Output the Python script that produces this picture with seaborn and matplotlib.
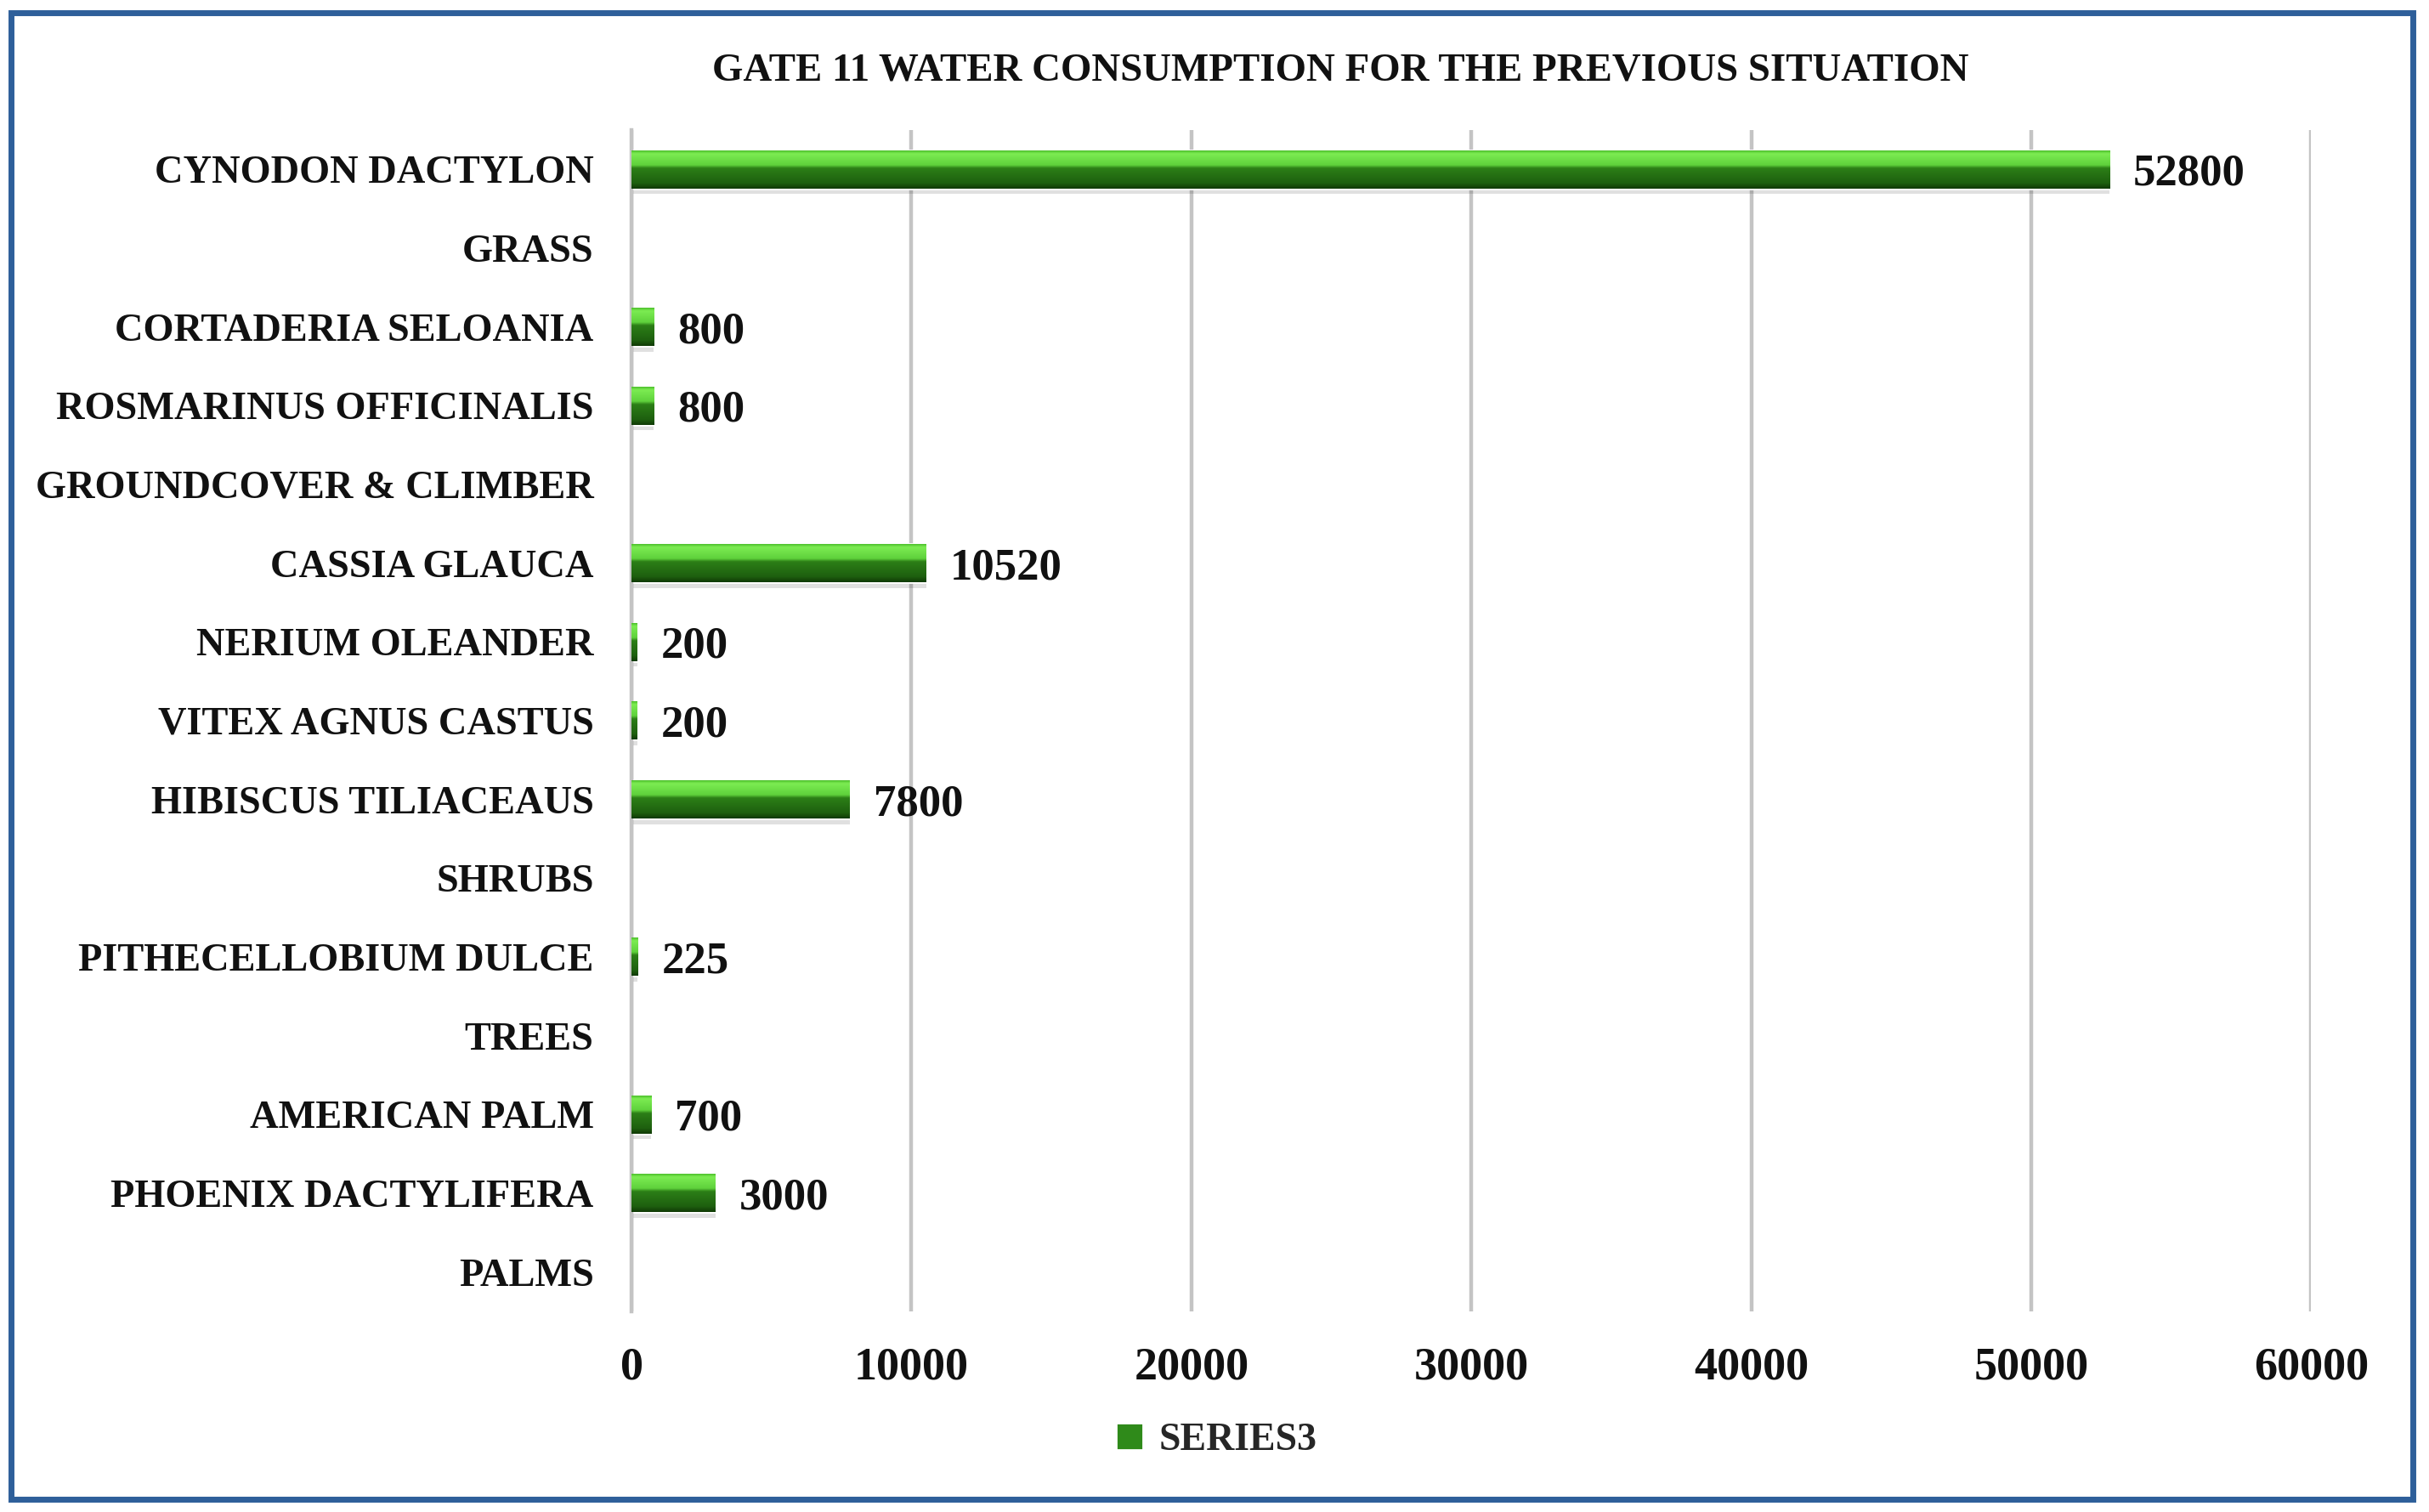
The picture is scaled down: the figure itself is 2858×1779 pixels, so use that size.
import numpy as np
import pandas as pd
import matplotlib
matplotlib.use("Agg")
import matplotlib.pyplot as plt
from matplotlib.colors import LinearSegmentedColormap
from matplotlib.patches import Rectangle
import seaborn as sns

# data (top to bottom as in the chart)
plants = ["CYNODON DACTYLON", "GRASS", "CORTADERIA SELOANIA", "ROSMARINUS OFFICINALIS",
          "GROUNDCOVER & CLIMBER", "CASSIA GLAUCA", "NERIUM OLEANDER", "VITEX AGNUS CASTUS",
          "HIBISCUS TILIACEAUS", "SHRUBS", "PITHECELLOBIUM DULCE", "TREES",
          "AMERICAN PALM", "PHOENIX DACTYLIFERA", "PALMS"]
consumption = [52800, np.nan, 800, 800, np.nan, 10520, 200, 200, 7800, np.nan,
               225, np.nan, 700, 3000, np.nan]
x_ticks = [0, 10000, 20000, 30000, 40000, 50000, 60000]
series_name = "SERIES3"
title = "GATE 11 WATER CONSUMPTION FOR THE PREVIOUS SITUATION"

df = pd.DataFrame({"plant": plants, "water": consumption})

sns.set_theme(style="white")
plt.rcParams["font.family"] = ["Liberation Serif", "DejaVu Serif"]
plt.rcParams["font.weight"] = "bold"

fig = plt.figure(figsize=(14.29, 8.895), dpi=200)
ax = fig.add_axes([0.260, 0.1327, 0.6915, 0.7813])

sns.barplot(data=df, y="plant", x="water", order=plants, orient="h",
            color="#2f8a1a", width=0.48, label=series_name, ax=ax, errorbar=None)

# glossy green gradient on each bar
green = LinearSegmentedColormap.from_list(
    "bar", [(0.0, "#4cbf2c"), (0.08, "#7cec52"), (0.38, "#5fd13c"),
            (0.46, "#2c7f17"), (0.85, "#1e600f"), (1.0, "#103a05")])
grad = np.linspace(0, 1, 256).reshape(-1, 1)
for p in ax.patches:
    w = p.get_width()
    if not np.isfinite(w) or w <= 0:
        continue
    y0, h = p.get_y(), p.get_height()
    # soft shadow under the bar
    ax.add_patch(Rectangle((p.get_x(), y0 + h * 0.15), w, h * 1.0, facecolor="#000000",
                           alpha=0.12, lw=0, zorder=1.5))
    ax.imshow(grad, cmap=green, aspect="auto", extent=(p.get_x(), p.get_x() + w, y0 + h, y0),
              zorder=3, interpolation="bilinear")
    p.set_zorder(2)
    ax.annotate(f"{int(w)}", (w, y0 + h / 2), xytext=(10, 0), textcoords="offset points",
                ha="left", va="center_baseline", fontsize=19, fontweight="bold", color="#111111")

ax.set_xlim(0, 60000)
ax.set_ylim(len(plants) - 0.5, -0.5)
ax.set_xticks(x_ticks)
ax.set_xticklabels([str(t) for t in x_ticks])
ax.set_xlabel("")
ax.set_ylabel("")
ax.tick_params(axis="x", length=0, pad=15, labelsize=19.5, labelcolor="#111111")
ax.tick_params(axis="y", length=0, pad=16, labelsize=16.7, labelcolor="#111111")
for lab in ax.get_xticklabels() + ax.get_yticklabels():
    lab.set_fontweight("bold")

ax.grid(axis="x", color="#c4c4c4", lw=1.6)
ax.grid(axis="y", visible=False)
ax.set_axisbelow(True)
for s in ["top", "right", "bottom"]:
    ax.spines[s].set_visible(False)
ax.spines["left"].set_color("#c4c4c4")
ax.spines["left"].set_linewidth(1.6)

fig.text(0.552, 0.953, title, ha="center", va="center", fontsize=16.9,
         fontweight="bold", color="#111111")

leg = ax.legend(loc="center", bbox_to_anchor=(0.5007, 0.047), bbox_transform=fig.transFigure,
                frameon=False, handlelength=0.7, handleheight=0.7, handletextpad=0.4,
                prop={"size": 16.5, "weight": "bold"})
for h in leg.legend_handles:
    h.set_facecolor("#2f8a1a")

fig.add_artist(Rectangle((0.0045, 0.0084), 0.989, 0.983, transform=fig.transFigure,
                         fill=False, edgecolor="#2e5f9a", lw=2.5))

plt.savefig("out.png", dpi=200)
